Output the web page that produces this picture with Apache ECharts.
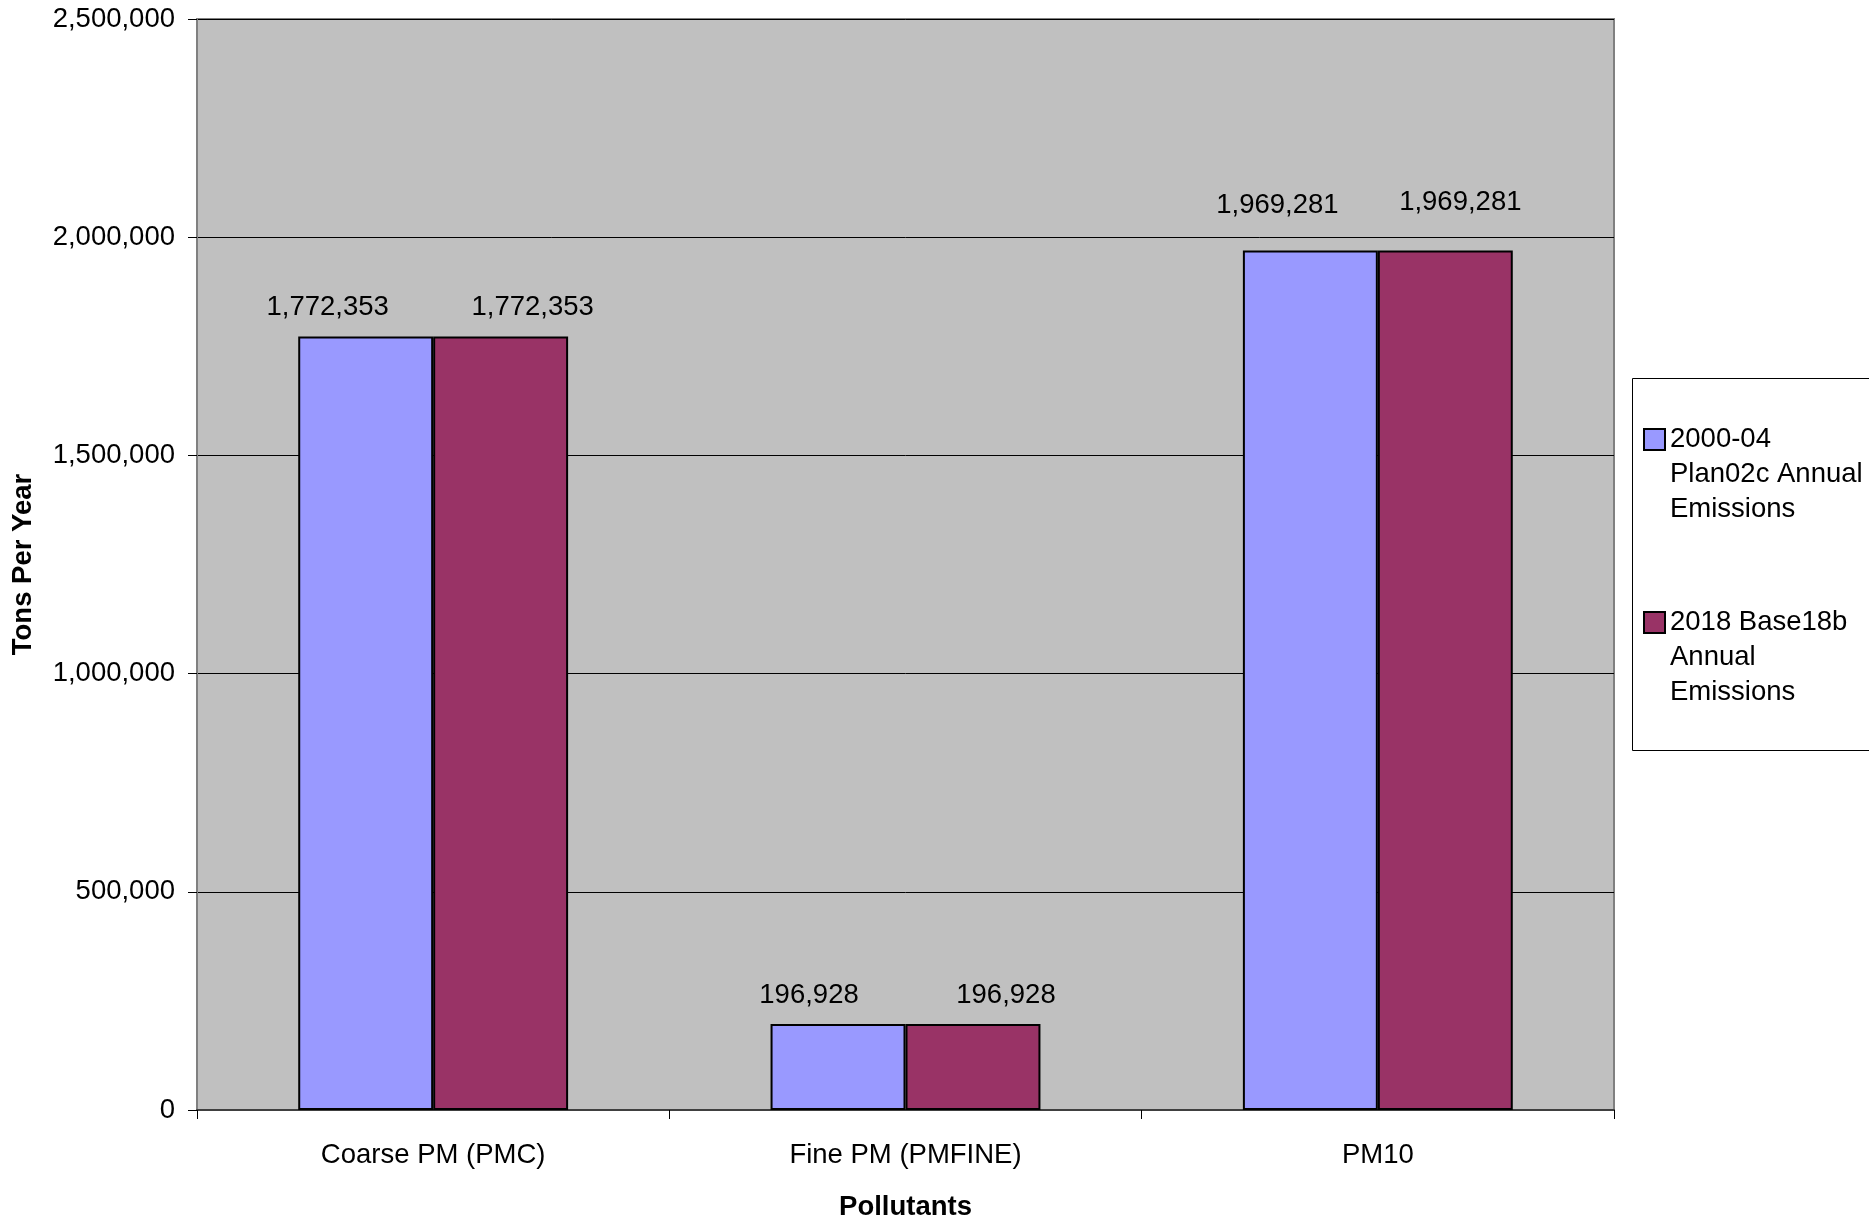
<!DOCTYPE html>
<html>
<head>
<meta charset="utf-8">
<script src="https://cdn.jsdelivr.net/npm/echarts@6/dist/echarts.min.js"></script>
<style>
  html, body { margin: 0; padding: 0; background: #fff; }
  #chart { width: 1869px; height: 1223px; }
</style>
</head>
<body>
<div id="chart"></div>
<script>
// Pollutant categories and annual emissions (tons per year)
const categories = ['Coarse PM (PMC)', 'Fine PM (PMFINE)', 'PM10'];
const seriesNames = [
  '2000-04\nPlan02c Annual\nEmissions',
  '2018 Base18b\nAnnual\nEmissions'
];
const plan02c = [1772353, 196928, 1969281];
const base18b = [1772353, 196928, 1969281];
const yTicks = [0, 500000, 1000000, 1500000, 2000000, 2500000];

// Small nudges for the value labels (pixels), kept apart from the values
const labelNudge = [
  [[-38, 0], [-29, 0], [-33, -16]],
  [[32, 0], [33, 0], [15, -19]]
];

const FONT = 'Liberation Sans, Arial, sans-serif';
const FS = 27.5;
const fmt = v => Number(v).toLocaleString('en-US');

function buildData(values, s) {
  return values.map((v, i) => ({
    value: v,
    label: { offset: labelNudge[s][i] }
  }));
}

const chart = echarts.init(document.getElementById('chart'), null, { renderer: 'canvas' });

chart.setOption({
  backgroundColor: '#ffffff',
  animation: false,
  textStyle: { fontFamily: FONT, color: '#000' },
  grid: {
    left: 197, right: 255, top: 19, bottom: 113,
    outerBoundsMode: 'none',
    containLabel: false,
    show: true,
    backgroundColor: '#C0C0C0',
    borderColor: '#808080',
    borderWidth: 2
  },
  legend: {
    orient: 'vertical',
    left: 1643,
    top: 352,
    padding: 0,
    itemWidth: 21,
    itemHeight: 21,
    itemGap: 8,
    icon: 'rect',
    itemStyle: { borderColor: '#000', borderWidth: 2 },
    // two leading blank lines put the swatch beside the first text line
    formatter: name => '\n\n' + name,
    textStyle: {
      fontFamily: FONT, fontSize: FS, color: '#000',
      lineHeight: 35
    },
    data: seriesNames
  },
  graphic: [{
    type: 'rect',
    shape: { x: 1632.5, y: 378.5, width: 260, height: 372 },
    style: { fill: 'none', stroke: '#000', lineWidth: 1 },
    z: 0
  }],
  xAxis: {
    type: 'category',
    data: categories,
    name: 'Pollutants',
    nameLocation: 'middle',
    nameGap: 83,
    nameTextStyle: { fontFamily: FONT, fontSize: FS, fontWeight: 'bold', color: '#000' },
    axisLine: { show: true, lineStyle: { color: '#404040', width: 2 } },
    axisTick: { show: true, alignWithLabel: false, length: 9, lineStyle: { color: '#000', width: 1 } },
    axisLabel: { fontFamily: FONT, fontSize: FS, color: '#000', margin: 31 },
    splitLine: { show: false }
  },
  yAxis: {
    type: 'value',
    min: yTicks[0],
    max: yTicks[yTicks.length - 1],
    interval: yTicks[1] - yTicks[0],
    name: 'Tons Per Year',
    nameLocation: 'middle',
    nameGap: 160,
    nameRotate: 90,
    nameTextStyle: { fontFamily: FONT, fontSize: FS, fontWeight: 'bold', color: '#000' },
    axisLine: { show: true, lineStyle: { color: '#808080', width: 2 } },
    axisTick: { show: true, length: 9, lineStyle: { color: '#000', width: 1 } },
    axisLabel: { fontFamily: FONT, fontSize: FS, color: '#000', margin: 22, formatter: fmt },
    splitLine: { show: true, lineStyle: { color: '#000', width: 1 } }
  },
  series: [
    {
      name: seriesNames[0],
      type: 'bar',
      data: buildData(plan02c, 0),
      barGap: '0%',
      barCategoryGap: '42.86%',
      itemStyle: { color: '#9999FF', borderColor: '#000', borderWidth: 2 },
      label: {
        show: true, position: 'top', distance: 15,
        fontFamily: FONT, fontSize: FS, color: '#000',
        formatter: p => fmt(p.value)
      }
    },
    {
      name: seriesNames[1],
      type: 'bar',
      data: buildData(base18b, 1),
      barGap: '0%',
      barCategoryGap: '42.86%',
      itemStyle: { color: '#993366', borderColor: '#000', borderWidth: 2 },
      label: {
        show: true, position: 'top', distance: 15,
        fontFamily: FONT, fontSize: FS, color: '#000',
        formatter: p => fmt(p.value)
      }
    }
  ]
});
</script>
</body>
</html>
